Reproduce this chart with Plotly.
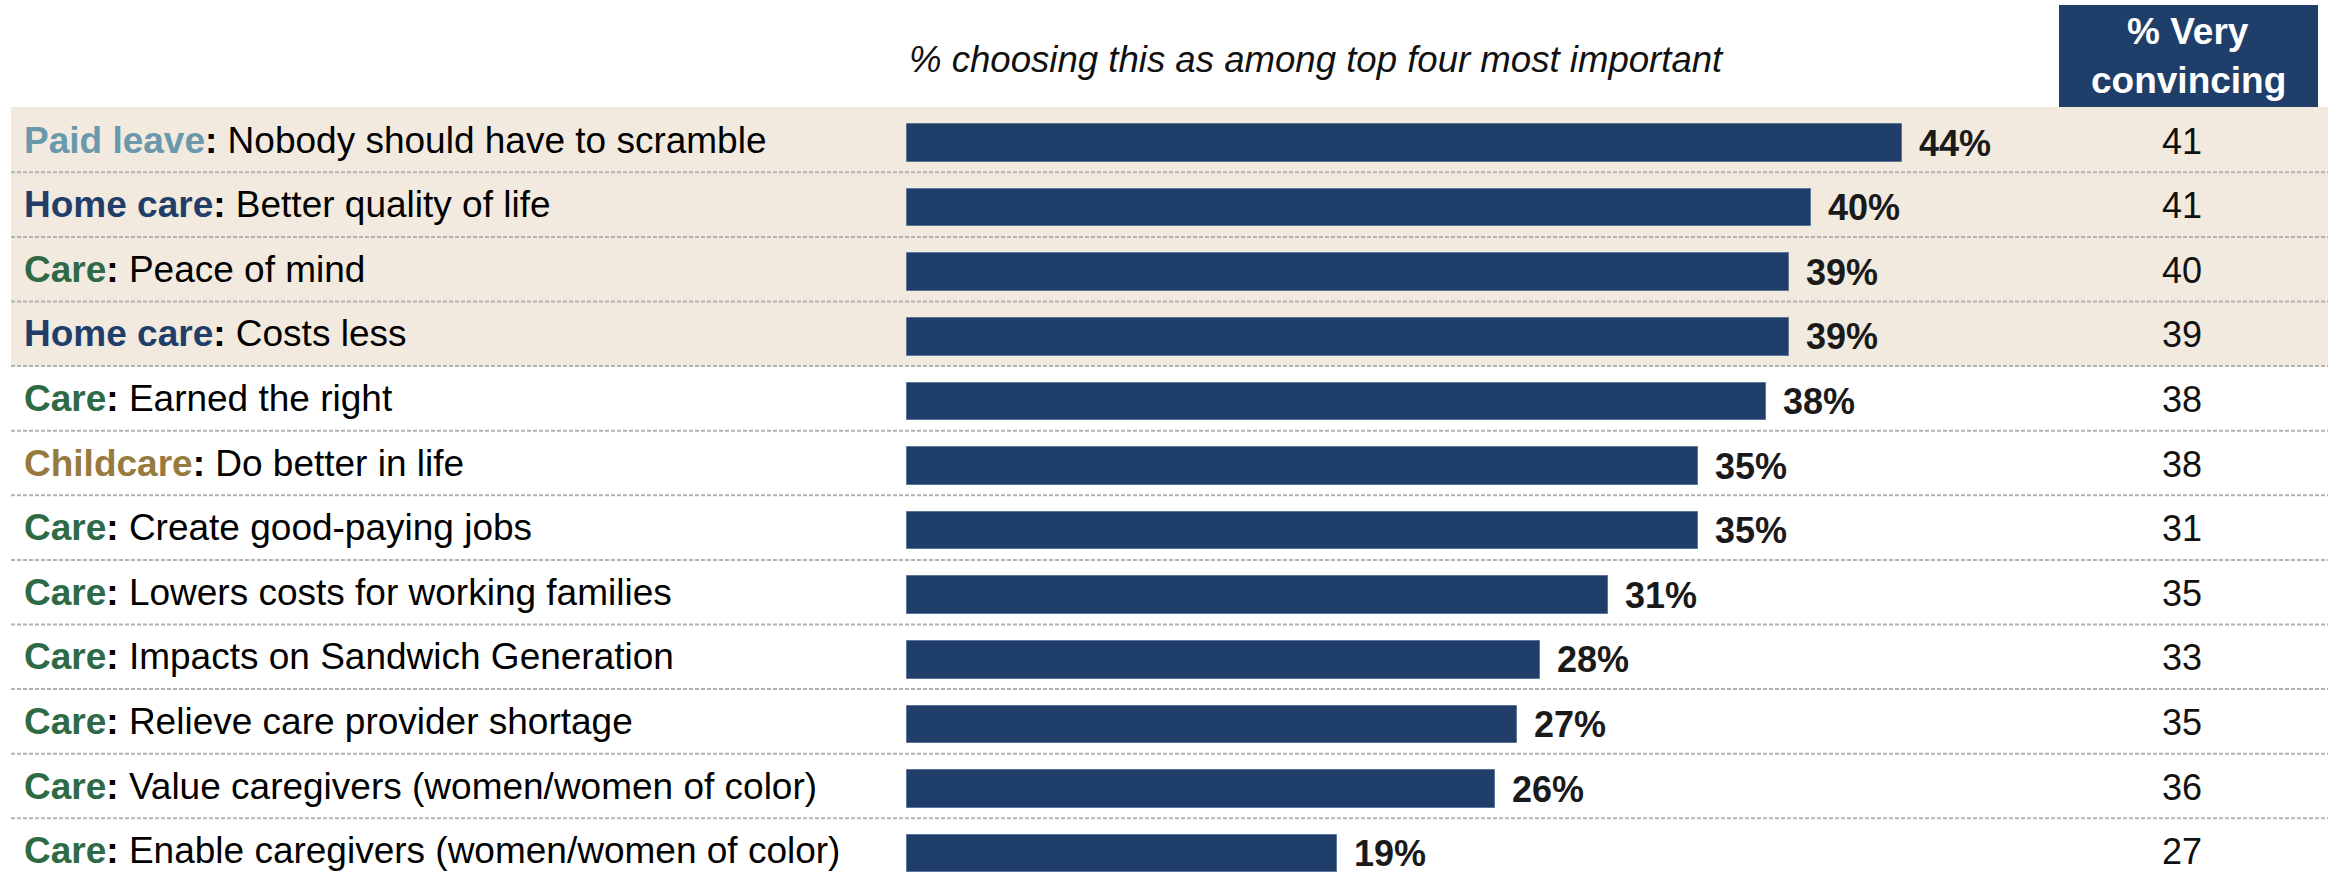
import plotly.graph_objects as go

# Message frames, in display order
topics = ["Paid leave", "Home care", "Care", "Home care", "Care", "Childcare",
          "Care", "Care", "Care", "Care", "Care", "Care"]
messages = [
    "Nobody should have to scramble",
    "Better quality of life",
    "Peace of mind",
    "Costs less",
    "Earned the right",
    "Do better in life",
    "Create good-paying jobs",
    "Lowers costs for working families",
    "Impacts on Sandwich Generation",
    "Relieve care provider shortage",
    "Value caregivers (women/women of color)",
    "Enable caregivers (women/women of color)",
]
top_four_pct = [44, 40, 39, 39, 38, 35, 35, 31, 28, 27, 26, 19]
very_convincing = [41, 41, 40, 39, 38, 38, 31, 35, 33, 35, 36, 27]
highlighted_rows = 4

topic_colors = {
    "Paid leave": "#6A98AC",
    "Home care": "#1F3F6A",
    "Care": "#2E6A45",
    "Childcare": "#977A3E",
}

W, H = 2328, 873
NAVY = "#1F3F6A"
BEIGE = "#F2EADF"
FONT = "Liberation Sans, Arial, sans-serif"

# pixel geometry helpers (margins are zero, so paper == pixels)
row0_px, pitch_px = 143.0, 64.6
bar_left_px, px_per_unit = 907.0, 22.61

y_top = (0 - row0_px) / pitch_px
y_bot = (H - row0_px) / pitch_px
x_lo = (0 - bar_left_px) / px_per_unit
x_hi = (W - bar_left_px) / px_per_unit

def y_of_px(py):
    return (py - row0_px) / pitch_px

def xp(px):
    return px / W

rows = list(range(len(messages)))

fig = go.Figure()
fig.add_trace(go.Bar(
    x=top_four_pct, y=rows, orientation="h", width=0.58,
    marker=dict(color=NAVY, line=dict(color="#5C7598", width=1)),
    hoverinfo="skip", showlegend=False,
))

shapes = []
# shaded band behind the top rows
shapes.append(dict(type="rect", xref="paper", yref="y", layer="below",
                   x0=xp(11), x1=1, y0=y_of_px(107), y1=highlighted_rows - 0.5 - 3 / pitch_px,
                   fillcolor=BEIGE, line=dict(width=0)))
# header box for the right-hand column
shapes.append(dict(type="rect", xref="paper", yref="y", layer="below",
                   x0=xp(2059), x1=xp(2318), y0=y_of_px(5), y1=y_of_px(107),
                   fillcolor=NAVY, line=dict(width=0)))
# dashed separators between rows
for k in range(len(messages) - 1):
    yy = k + 0.5 - 3 / pitch_px
    shapes.append(dict(type="line", xref="paper", yref="y", layer="above",
                       x0=xp(11), x1=1, y0=yy, y1=yy,
                       line=dict(color="#B2B2B2", width=2, dash="4px,2px")))

annotations = []
# column heading over the bars
annotations.append(dict(xref="paper", yref="y", x=xp(907), y=y_of_px(59),
                        xanchor="left", yanchor="middle", showarrow=False,
                        text="<i>% choosing this as among top four most important</i>",
                        font=dict(family=FONT, size=36.6, color="#111111")))
# right column heading
for txt, py in [("% Very", 31), ("convincing", 80)]:
    annotations.append(dict(xref="paper", yref="y", x=xp(2188), y=y_of_px(py),
                            xanchor="center", yanchor="middle", showarrow=False,
                            text=f"<b>{txt}</b>",
                            font=dict(family=FONT, size=37, color="white")))

for i, (tp, msg, v, vc) in enumerate(zip(topics, messages, top_four_pct, very_convincing)):
    col = topic_colors[tp]
    annotations.append(dict(
        xref="paper", yref="y", x=xp(22), y=i, yshift=3,
        xanchor="left", yanchor="middle", showarrow=False,
        text=f"<b><span style='color:{col}'>{tp}</span>:</b> {msg}",
        font=dict(family=FONT, size=37, color="#000000")))
    annotations.append(dict(
        xref="x", yref="y", x=v, y=i, xshift=15,
        xanchor="left", yanchor="middle", showarrow=False,
        text=f"<b>{v}%</b>",
        font=dict(family=FONT, size=36, color="#1A1A1A")))
    annotations.append(dict(
        xref="paper", yref="y", x=xp(2182), y=i, yshift=2,
        xanchor="center", yanchor="middle", showarrow=False,
        text=f"{vc}",
        font=dict(family=FONT, size=36, color="#111111")))

fig.update_layout(
    width=W, height=H,
    margin=dict(l=0, r=0, t=0, b=0),
    paper_bgcolor="white", plot_bgcolor="white",
    xaxis=dict(range=[x_lo, x_hi], visible=False, fixedrange=True),
    yaxis=dict(range=[y_bot, y_top], visible=False, fixedrange=True),
    shapes=shapes, annotations=annotations,
    bargap=0, showlegend=False,
)

fig.write_html("out.html", config={"displayModeBar": False})
